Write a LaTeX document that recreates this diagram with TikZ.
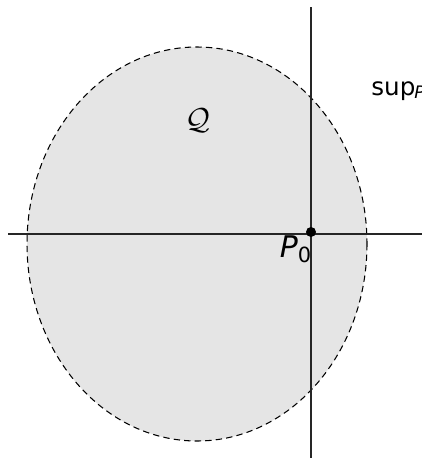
\documentclass[tikz,border=0pt]{standalone}
\usepackage{fontspec}
\setmainfont{DejaVu Sans}
\usepackage{tikz}

\begin{document}
\begin{tikzpicture}
		[x=0.02cm, y=-0.02cm,
		region/.style={fill=black!10, draw=black, line width=0.6pt, dash pattern=on 3.6pt off 2.4pt},
		axis line/.style={line width=0.6pt, color=black!85},
		point/.style={circle, fill=black, inner sep=0pt, minimum size=0.2cm},
		label text/.style={inner sep=0pt, font=\fontsize{#1}{#1}\selectfont},
		label text/.default=14pt]
		
		\def \Cx {197};
		\def \Cy {244};
		\def \Rx {170};
		\def \Ry {197};
		
		\useasboundingbox (0,0) rectangle (422,460);
		\clip (0,0) rectangle (422,460);
		
		% region
		\draw[region] (\Cx,\Cy) ellipse [x radius=\Rx, y radius=\Ry];
		
		% axes
		\coordinate (left) at (8,234);
		\coordinate (right) at (422,234);
		\coordinate (top) at (311,7);
		\coordinate (bottom) at (311,458);
		\draw[axis line] (left) -- (right);
		\draw[axis line] (top) -- (bottom);
		
		\node[point] (P0) at (311,232) {};
		\node[label text=17pt] (P0 label) at (296,249) {\itshape P\textsubscript{\upshape 0}};
		\node[label text=19pt] (Q) at (198,121) {$\mathcal{Q}$};
		\node[label text, anchor=base west] (sup) at (371,95) {sup\kern-0.5pt\textsubscript{\itshape P}};

	\end{tikzpicture}
\end{document}
